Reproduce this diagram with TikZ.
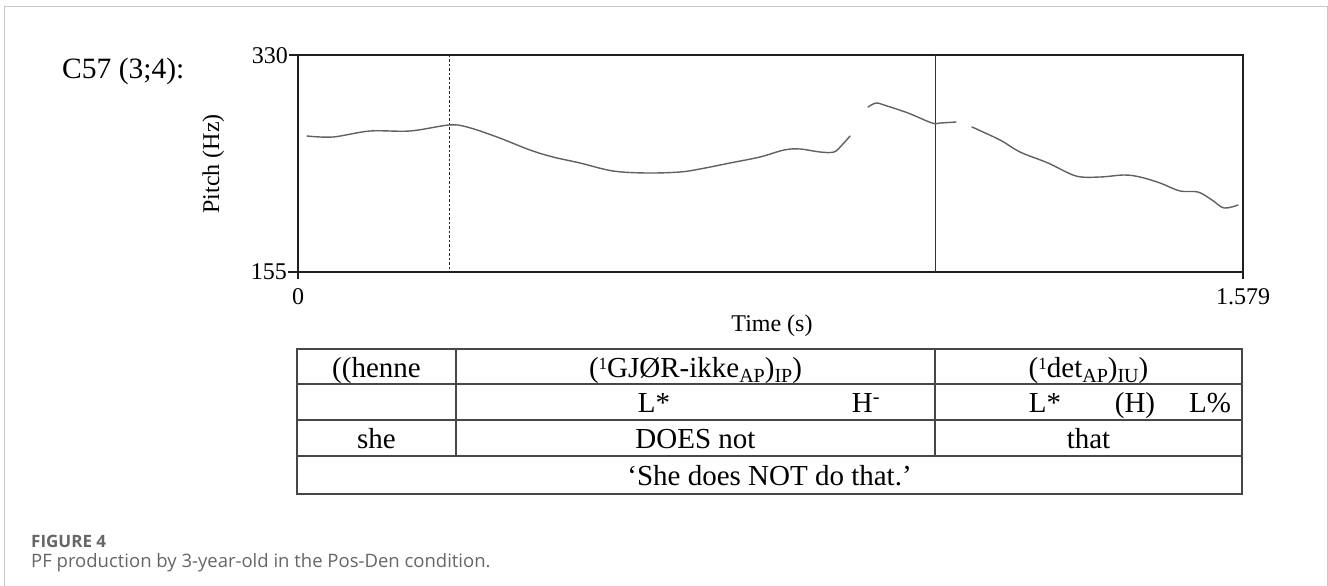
\documentclass[tikz,border=0pt]{standalone}
\usepackage{fontspec}
\setmainfont{Liberation Serif}
\newfontfamily\capfont{Open Sans}
\newcommand{\supone}{\raisebox{7.5pt}{\fontsize{17}{17}\selectfont 1}}
\newcommand{\subtx}[1]{\raisebox{-5.5pt}{\fontsize{20}{20}\selectfont #1}}
\begin{document}
\begin{tikzpicture}[x=1pt,y=-1pt,
  tbl/.style={line width=1.5pt, draw=black!72},
  cell/.style={font=\fontsize{29}{34}\selectfont, anchor=base, inner sep=0pt},
  ax/.style={font=\fontsize{24}{28}\selectfont, inner sep=0pt},
  axline/.style={line width=1.8pt, draw=black!88},
  pitch/.style={draw=black!62, line width=1.4pt, line cap=round, line join=round},
  captxt/.style={anchor=base west, inner sep=0pt, text=black!60}]
\useasboundingbox (0,0) rectangle (1328,586);
% outer frame
\draw[black!22, line width=1pt] (4,586) -- (4,7) -- (1327,7) -- (1327,586);
% title
\node[font=\fontsize{29.5}{34}\selectfont, anchor=base west, inner sep=0pt] (title) at (62,78) {C57 (3;4):};
% plot box
\coordinate (tl) at (298,55);
\coordinate (br) at (1243,272);
\draw[axline] (tl) rectangle (br);
\draw[axline] (289,55) -- (298,55);
\draw[axline] (288,272) -- (298,272);
\draw[axline] (298,272) -- (298,279);
\draw[axline] (1243,272) -- (1243,279);
% boundary lines
\draw[line width=1pt, dash pattern=on 2.5pt off 2pt, black!85] (449,55) -- (449,272);
\draw[line width=1pt, black!80] (935,55) -- (935,272);
% axis labels
\node[ax, anchor=east] (y330) at (288,56) {330};
\node[ax, anchor=east] (y155) at (287,272) {155};
\node[ax, anchor=base] (x0) at (298,304) {0};
\node[ax, anchor=base] (x1) at (1243,304) {1.579};
\node[ax, anchor=base] (xl) at (772,331) {Time (s)};
\node[ax, rotate=90, anchor=base] (yl) at (219,164) {Pitch (Hz)};
% pitch track
\draw[pitch] plot[smooth, tension=0.55] coordinates {(307,136) (333,137) (370,131) (410,131) (449,125) (467,127) (497,137) (530,150) (553,157) (580,163) (613,171) (647,173) (680,172) (700,169) (730,163) (760,157) (784,150) (800,149) (820,152) (834,152) (842,145) (850,136)};
\draw[pitch] plot[smooth, tension=0.55] coordinates {(868,107) (876,103) (884,105) (908,113) (932,123) (940,123) (956,122)};
\draw[pitch] plot[smooth, tension=0.55] coordinates {(972,127) (1000,140) (1020,152) (1048,163) (1076,176) (1100,177) (1124,175) (1140,177) (1160,183) (1180,191) (1198,192) (1212,200) (1224,208) (1238,205)};
% table
\draw[tbl] (297,349) rectangle (1242,494);
\draw[tbl] (297,384) -- (1242,384);
\draw[tbl] (297,420) -- (1242,420);
\draw[tbl] (297,456) -- (1242,456);
\draw[tbl] (456,349) -- (456,456);
\draw[tbl] (935,349) -- (935,456);
% row 1
\node[cell] (r1a) at (376.5,377) {((henne};
\node[cell] (r1b) at (695.5,377) {(\supone GJØR-ikke\subtx{AP})\subtx{IP})};
\node[cell] (r1c) at (1088.5,377) {(\supone det\subtx{AP})\subtx{IU})};
% row 2
\node[cell] (r2a) at (654,412.5) {L*};
\node[cell] (r2b) at (866,412.5) {H\textsuperscript{-}};
\node[cell] (r2c) at (1045,412.5) {L*};
\node[cell] (r2d) at (1135,412.5) {(H)};
\node[cell] (r2e) at (1210,412.5) {L\%};
% row 3
\node[cell] (r3a) at (376.5,448.5) {she};
\node[cell] (r3b) at (695.5,448.5) {DOES not};
\node[cell] (r3c) at (1088.5,448.5) {that};
% row 4
\node[cell] (r4) at (769.5,485.5) {‘She does NOT do that.’};
% caption
\node[captxt, font=\capfont\bfseries\fontsize{17}{20}\selectfont] (fig) at (31,547) {FIGURE 4};
\node[captxt, font=\capfont\fontsize{18.5}{22}\selectfont] (capt) at (31,567) {PF production by 3-year-old in the Pos-Den condition.};
\end{tikzpicture}
\end{document}
